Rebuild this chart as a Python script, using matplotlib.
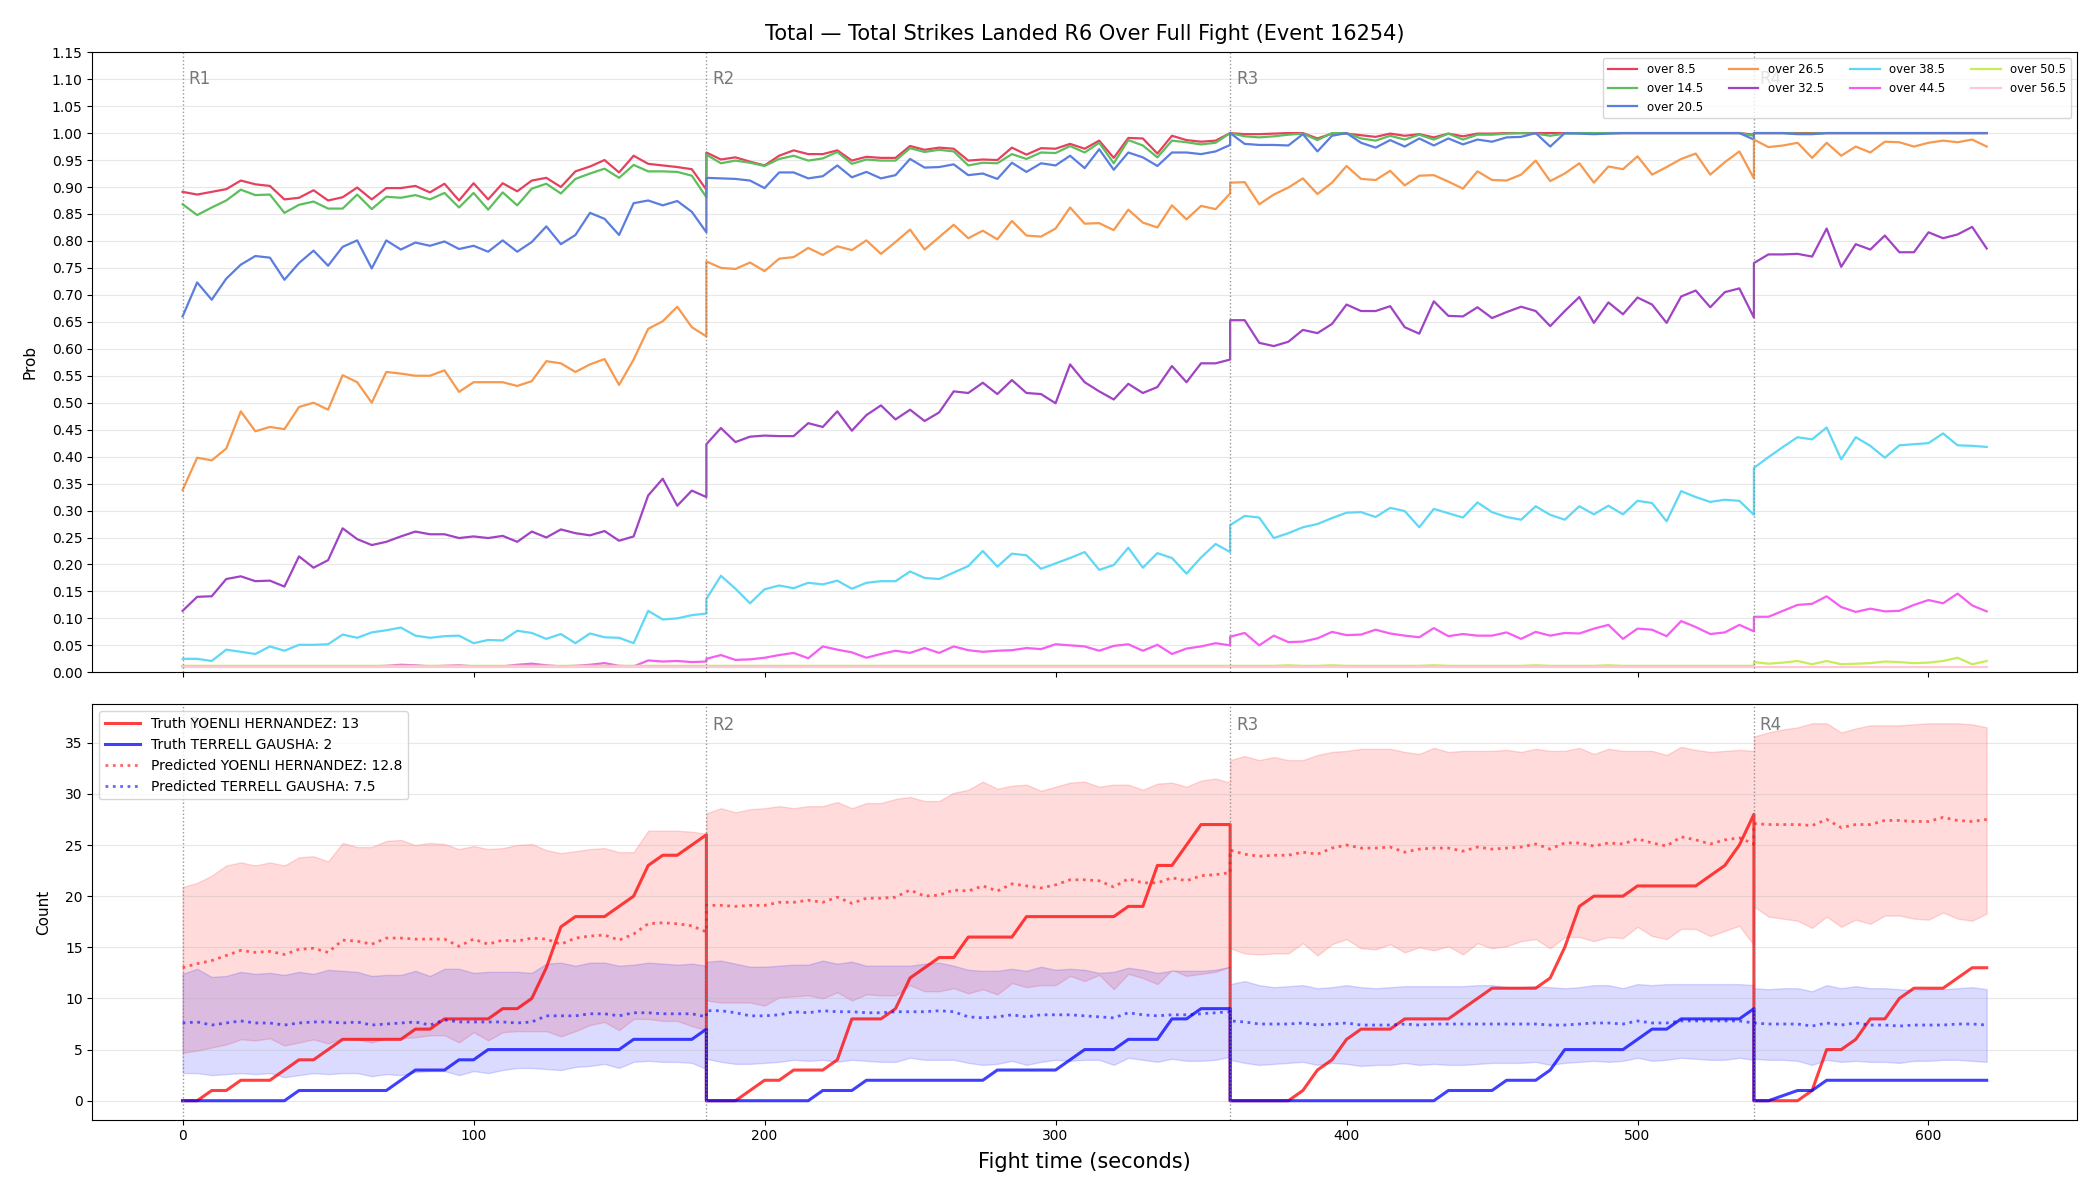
import numpy as np
import matplotlib
matplotlib.use("Agg")
import matplotlib.pyplot as plt
from matplotlib.ticker import FormatStrFormatter

# ---------------- data ----------------
round_names = ["R1", "R2", "R3", "R4"]
round_starts = [0, 180, 360, 540]
round_points = [37, 37, 37, 17]
step_seconds = 5

line_labels = ["over 8.5", "over 14.5", "over 20.5", "over 26.5", "over 32.5",
               "over 38.5", "over 44.5", "over 50.5", "over 56.5"]
line_colors = ["#e6405f", "#5cbf5c", "#5b7de0", "#f7994e", "#a043c4",
               "#5ed8f5", "#f55ef0", "#c8ec5a", "#fcc9d6"]

over_8_5 = [0.891,0.886,0.891,0.896,0.912,0.905,0.902,0.877,0.880,0.894,0.875,0.881,0.899,0.877,0.898,0.898,0.902,0.890,0.906,0.875,0.907,0.877,0.907,0.892,0.912,0.917,0.900,0.929,0.938,0.950,0.927,0.958,0.943,0.940,0.937,0.933,0.895,
            0.964,0.951,0.955,0.947,0.940,0.958,0.968,0.961,0.961,0.968,0.949,0.956,0.954,0.954,0.976,0.969,0.973,0.971,0.949,0.951,0.950,0.973,0.960,0.972,0.971,0.980,0.971,0.986,0.954,0.991,0.990,0.962,0.995,0.987,0.984,0.986,1.0,
            1.0,0.998,0.998,0.999,1.0,1.0,0.990,0.999,0.999,0.996,0.993,0.999,0.995,0.998,0.992,0.999,0.994,0.999,0.999,1.0,1.0,1.0,1.0,1.0,1.0,1.0,1.0,1.0,1.0,1.0,1.0,1.0,1.0,1.0,1.0,1.0,0.997,
            1.0,1.0,1.0,1.0,1.0,1.0,1.0,1.0,1.0,1.0,1.0,1.0,1.0,1.0,1.0,1.0,1.0]
over_14_5 = [0.868,0.848,0.862,0.875,0.895,0.885,0.886,0.852,0.867,0.873,0.860,0.860,0.886,0.859,0.882,0.880,0.885,0.877,0.889,0.862,0.889,0.858,0.890,0.866,0.897,0.906,0.888,0.915,0.925,0.934,0.917,0.941,0.929,0.929,0.928,0.921,0.881,
             0.960,0.944,0.949,0.945,0.939,0.952,0.958,0.949,0.953,0.965,0.943,0.951,0.949,0.949,0.972,0.965,0.969,0.966,0.940,0.945,0.944,0.961,0.952,0.964,0.963,0.976,0.964,0.982,0.944,0.987,0.977,0.955,0.986,0.983,0.979,0.982,1.0,
             1.0,0.994,0.992,0.994,0.997,0.999,0.987,1.0,1.0,0.990,0.986,0.995,0.988,0.997,0.988,0.999,0.988,0.997,0.997,0.999,1.0,0.999,0.995,0.999,1.0,1.0,1.0,1.0,1.0,1.0,1.0,1.0,1.0,1.0,1.0,1.0,0.995,
             1.0,1.0,1.0,0.999,0.999,1.0,1.0,1.0,1.0,1.0,1.0,1.0,1.0,1.0,1.0,1.0,1.0]
over_20_5 = [0.660,0.723,0.691,0.730,0.756,0.772,0.769,0.728,0.759,0.782,0.754,0.789,0.801,0.749,0.801,0.784,0.797,0.791,0.799,0.785,0.791,0.780,0.801,0.780,0.798,0.827,0.794,0.811,0.852,0.841,0.811,0.870,0.875,0.866,0.874,0.854,0.816,
             0.917,0.916,0.915,0.912,0.898,0.927,0.927,0.916,0.920,0.940,0.918,0.928,0.916,0.922,0.952,0.936,0.937,0.942,0.922,0.925,0.915,0.945,0.928,0.944,0.940,0.958,0.935,0.970,0.932,0.964,0.955,0.939,0.964,0.964,0.961,0.966,0.978,
             1.0,0.980,0.978,0.978,0.977,0.998,0.966,0.995,1.0,0.982,0.973,0.987,0.975,0.990,0.977,0.990,0.979,0.988,0.984,0.992,0.993,1.0,0.975,1.0,0.999,0.998,0.999,1.0,1.0,1.0,1.0,1.0,1.0,1.0,1.0,1.0,0.988,
             1.0,1.0,1.0,0.998,0.998,1.0,1.0,1.0,1.0,1.0,1.0,1.0,1.0,1.0,1.0,1.0,1.0]
over_26_5 = [0.338,0.398,0.393,0.415,0.484,0.447,0.455,0.451,0.492,0.500,0.487,0.551,0.538,0.500,0.557,0.554,0.550,0.550,0.560,0.520,0.538,0.538,0.538,0.531,0.540,0.577,0.573,0.557,0.571,0.581,0.533,0.580,0.637,0.651,0.678,0.640,0.623,
             0.762,0.750,0.748,0.760,0.744,0.767,0.770,0.787,0.774,0.790,0.783,0.801,0.776,0.798,0.821,0.784,0.807,0.830,0.805,0.819,0.803,0.837,0.810,0.808,0.823,0.862,0.832,0.833,0.820,0.858,0.834,0.825,0.866,0.840,0.865,0.859,0.888,
             0.908,0.909,0.868,0.886,0.899,0.916,0.887,0.908,0.939,0.915,0.913,0.930,0.903,0.921,0.922,0.910,0.897,0.929,0.913,0.912,0.923,0.949,0.911,0.925,0.944,0.908,0.938,0.933,0.957,0.923,0.937,0.952,0.962,0.923,0.946,0.966,0.916,
             0.988,0.974,0.977,0.982,0.954,0.982,0.958,0.975,0.964,0.984,0.983,0.975,0.982,0.986,0.983,0.988,0.975]
over_32_5 = [0.114,0.140,0.141,0.173,0.178,0.169,0.170,0.159,0.215,0.194,0.208,0.267,0.247,0.236,0.242,0.252,0.261,0.256,0.256,0.249,0.252,0.249,0.253,0.242,0.261,0.250,0.265,0.258,0.254,0.262,0.244,0.252,0.328,0.359,0.309,0.337,0.325,
             0.423,0.453,0.427,0.437,0.439,0.438,0.438,0.462,0.455,0.484,0.448,0.477,0.495,0.469,0.487,0.466,0.482,0.521,0.518,0.537,0.516,0.542,0.518,0.516,0.499,0.571,0.538,0.521,0.506,0.535,0.518,0.529,0.568,0.538,0.573,0.573,0.580,
             0.653,0.653,0.611,0.605,0.613,0.635,0.629,0.646,0.682,0.670,0.670,0.679,0.640,0.628,0.688,0.661,0.660,0.677,0.657,0.668,0.678,0.670,0.642,0.670,0.696,0.648,0.686,0.664,0.695,0.682,0.648,0.697,0.708,0.677,0.705,0.712,0.658,
             0.759,0.775,0.775,0.776,0.771,0.823,0.752,0.794,0.784,0.810,0.779,0.779,0.816,0.805,0.812,0.826,0.786]
over_38_5 = [0.025,0.025,0.021,0.042,0.038,0.034,0.048,0.040,0.051,0.051,0.052,0.070,0.064,0.074,0.078,0.083,0.068,0.064,0.067,0.068,0.054,0.060,0.059,0.077,0.073,0.062,0.071,0.054,0.072,0.065,0.064,0.054,0.114,0.098,0.100,0.106,0.109,
             0.136,0.179,0.155,0.128,0.154,0.161,0.156,0.166,0.163,0.170,0.155,0.166,0.169,0.169,0.187,0.175,0.173,0.185,0.197,0.225,0.196,0.220,0.217,0.192,0.202,0.212,0.223,0.190,0.199,0.231,0.194,0.221,0.212,0.183,0.213,0.238,0.223,
             0.273,0.290,0.287,0.249,0.258,0.269,0.275,0.286,0.296,0.297,0.288,0.305,0.299,0.269,0.303,0.295,0.287,0.315,0.297,0.288,0.283,0.308,0.292,0.283,0.308,0.293,0.309,0.293,0.318,0.314,0.280,0.336,0.325,0.316,0.320,0.318,0.292,
             0.379,0.399,0.418,0.436,0.432,0.454,0.395,0.436,0.420,0.398,0.421,0.423,0.425,0.443,0.421,0.420,0.418]
over_44_5 = [0.011,0.011,0.011,0.011,0.011,0.011,0.011,0.011,0.011,0.011,0.011,0.011,0.011,0.011,0.012,0.014,0.013,0.011,0.012,0.013,0.011,0.011,0.011,0.014,0.016,0.013,0.011,0.012,0.014,0.017,0.012,0.011,0.022,0.020,0.021,0.019,0.020,
             0.025,0.032,0.023,0.024,0.027,0.032,0.036,0.026,0.048,0.042,0.037,0.027,0.034,0.040,0.036,0.045,0.036,0.048,0.041,0.038,0.040,0.041,0.045,0.043,0.052,0.050,0.048,0.040,0.049,0.052,0.040,0.051,0.034,0.044,0.048,0.054,0.050,
             0.066,0.073,0.050,0.068,0.056,0.057,0.063,0.075,0.069,0.070,0.079,0.072,0.068,0.065,0.082,0.067,0.071,0.068,0.068,0.074,0.062,0.075,0.068,0.073,0.072,0.081,0.088,0.062,0.081,0.079,0.067,0.095,0.084,0.071,0.074,0.088,0.076,
             0.103,0.103,0.114,0.125,0.127,0.141,0.121,0.112,0.118,0.113,0.114,0.125,0.134,0.128,0.146,0.124,0.113]
over_50_5 = [0.012]*37 + \
            [0.012]*37 + \
            [0.012,0.012,0.012,0.012,0.013,0.012,0.012,0.013,0.012,0.012,0.012,0.012,0.012,0.012,0.013,0.012,0.012,0.012,0.012,0.012,0.012,0.013,0.012,0.012,0.012,0.012,0.013,0.012,0.012,0.012,0.012,0.012,0.012,0.012,0.012,0.012,0.012] + \
            [0.019,0.016,0.018,0.021,0.015,0.021,0.015,0.016,0.017,0.020,0.019,0.017,0.018,0.021,0.027,0.015,0.021]
over_56_5 = [0.009]*37 + [0.009]*37 + [0.009]*37 + [0.010]*17

truth_yoenli = [0,0,1,1,2,2,2,3,4,4,5,6,6,6,6,6,7,7,8,8,8,8,9,9,10,13,17,18,18,18,19,20,23,24,24,25,26,
                0,0,0,1,2,2,3,3,3,4,8,8,8,9,12,13,14,14,16,16,16,16,18,18,18,18,18,18,18,19,19,23,23,25,27,27,27,
                0,0,0,0,0,1,3,4,6,7,7,7,8,8,8,8,9,10,11,11,11,11,12,15,19,20,20,20,21,21,21,21,21,22,23,25,28,
                0,0,0,0,1,5,5,6,8,8,10,11,11,11,12,13,13]
truth_gausha = [0,0,0,0,0,0,0,0,1,1,1,1,1,1,1,2,3,3,3,4,4,5,5,5,5,5,5,5,5,5,5,6,6,6,6,6,7,
                0,0,0,0,0,0,0,0,1,1,1,2,2,2,2,2,2,2,2,2,3,3,3,3,3,4,5,5,5,6,6,6,8,8,9,9,9,
                0,0,0,0,0,0,0,0,0,0,0,0,0,0,0,1,1,1,1,2,2,2,3,5,5,5,5,5,6,7,7,8,8,8,8,8,9,
                0,0,0.5,1,1,2,2,2,2,2,2,2,2,2,2,2,2]

pred_yoenli = [13.0,13.4,13.7,14.2,14.7,14.5,14.6,14.3,14.8,14.9,14.5,15.7,15.6,15.3,15.9,15.9,15.8,15.8,15.8,15.1,15.8,15.3,15.7,15.6,15.9,15.8,15.3,15.9,16.1,16.2,15.7,16.3,17.3,17.4,17.3,17.1,16.5,
               19.1,19.1,19.0,19.1,19.1,19.4,19.4,19.6,19.4,19.9,19.3,19.8,19.8,19.9,20.6,20.0,20.1,20.6,20.5,21.0,20.5,21.2,21.0,20.8,21.1,21.6,21.6,21.5,20.9,21.7,21.3,21.3,21.8,21.5,22.0,22.1,22.3,
               24.5,24.1,23.9,24.0,24.0,24.3,24.1,24.7,25.0,24.7,24.7,24.8,24.3,24.6,24.7,24.7,24.4,24.8,24.6,24.7,24.8,25.1,24.6,25.2,25.2,24.9,25.2,25.1,25.6,25.2,24.9,25.8,25.5,25.1,25.5,25.7,25.1,
               27.1,27.0,27.0,27.0,26.9,27.5,26.7,27.0,27.0,27.4,27.4,27.3,27.3,27.7,27.4,27.3,27.5]
pred_yoenli_hi = [20.9,21.3,22.0,23.0,23.3,23.0,23.3,23.0,23.8,23.9,23.4,25.2,24.8,24.8,25.4,25.5,25.0,25.2,25.1,24.6,24.9,24.6,24.7,25.0,25.1,24.5,24.2,24.4,24.6,24.7,24.3,24.3,26.4,26.4,26.4,26.3,26.1,
                  28.1,28.6,28.2,28.5,28.6,28.8,28.6,28.8,28.8,29.2,28.6,29.1,29.1,29.5,29.7,29.3,29.3,30.1,30.4,31.2,30.5,30.8,30.9,30.3,30.7,31.1,31.2,30.7,30.9,30.9,30.4,31.0,31.1,30.7,31.3,31.5,31.1,
                  33.3,33.7,33.3,33.6,33.3,33.3,33.8,34.1,34.2,34.4,34.4,34.4,34.1,33.9,34.5,34.1,34.2,34.2,34.2,34.3,34.1,34.4,34.2,34.2,34.5,33.9,34.4,34.2,34.2,34.2,33.8,34.6,34.3,34.1,34.2,34.3,34.2,
                  35.6,36.0,36.3,36.5,36.9,36.9,36.0,36.4,36.7,36.7,36.7,36.8,36.9,36.9,36.9,36.8,36.5]
pred_yoenli_lo = [4.7,4.9,5.2,5.5,6.0,5.9,6.1,5.4,5.7,6.0,5.6,6.1,6.0,5.7,6.1,6.1,6.2,6.4,6.4,5.7,6.7,5.9,6.7,6.8,6.8,6.8,6.3,6.8,7.4,7.7,6.9,8.0,8.0,7.8,7.8,7.3,6.9,
                  9.8,9.6,9.6,9.6,9.3,10.1,10.2,10.3,10.0,10.6,9.8,10.4,10.3,10.3,11.3,10.7,10.7,11.0,10.5,10.9,10.4,11.5,11.1,11.3,11.3,12.2,11.7,12.3,10.9,12.4,12.0,11.4,12.8,12.2,12.4,12.6,13.1,
                  14.9,14.4,14.3,14.4,14.4,15.4,14.2,15.3,15.8,14.9,14.8,15.3,14.5,15.0,14.7,15.1,14.3,15.4,14.9,15.1,15.6,15.8,14.9,16.0,16.0,15.6,16.0,15.9,17.0,16.1,15.8,16.8,16.8,16.1,16.6,17.1,15.2,
                  19.0,18.0,17.8,17.6,16.9,18.0,17.0,17.7,17.3,18.1,18.1,17.8,17.7,18.4,17.8,17.6,18.3]

pred_gausha = [7.6,7.7,7.4,7.6,7.8,7.6,7.6,7.4,7.6,7.7,7.7,7.6,7.7,7.4,7.5,7.6,7.7,7.4,7.9,7.7,7.7,7.7,7.7,7.6,7.7,8.3,8.3,8.3,8.5,8.5,8.3,8.6,8.6,8.5,8.5,8.5,8.2,
               8.8,8.8,8.6,8.3,8.3,8.4,8.7,8.6,8.8,8.7,8.7,8.6,8.6,8.7,8.7,8.7,8.8,8.7,8.2,8.1,8.2,8.4,8.2,8.4,8.4,8.4,8.3,8.2,8.1,8.6,8.4,8.3,8.4,8.4,8.5,8.6,8.7,
               7.8,7.7,7.5,7.5,7.5,7.6,7.4,7.5,7.6,7.4,7.4,7.4,7.5,7.4,7.5,7.5,7.5,7.5,7.5,7.5,7.5,7.5,7.4,7.4,7.5,7.6,7.6,7.5,7.8,7.6,7.6,7.8,7.8,7.8,7.8,7.8,7.6,
               7.6,7.5,7.5,7.5,7.3,7.6,7.4,7.6,7.4,7.4,7.3,7.4,7.4,7.4,7.5,7.5,7.4]
pred_gausha_hi = [12.4,12.9,12.1,12.2,12.6,12.4,12.5,12.3,12.6,12.4,12.8,12.7,12.6,12.2,12.3,12.3,12.7,12.2,12.9,12.9,12.5,12.6,12.6,12.6,12.5,13.4,13.5,13.2,13.5,13.5,13.2,13.3,13.5,13.4,13.3,13.4,13.2,
                  13.6,13.7,13.4,13.1,13.1,13.2,13.3,13.3,13.7,13.4,13.6,13.2,13.2,13.2,13.2,13.4,13.5,13.2,12.8,12.7,12.7,12.9,12.7,13.1,12.8,12.9,12.8,12.5,12.6,13.0,12.8,12.5,12.7,12.7,12.7,12.8,13.1,
                  11.4,11.7,11.3,11.1,11.2,11.3,11.0,11.1,11.3,11.1,11.0,11.1,11.2,11.2,11.2,11.2,11.2,11.3,11.3,11.1,11.1,11.2,11.1,11.0,11.1,11.3,11.3,11.0,11.4,11.3,11.4,11.4,11.4,11.4,11.4,11.4,11.3,
                  11.0,10.9,11.0,11.0,10.7,11.3,11.0,11.2,11.0,11.0,10.9,10.8,10.9,10.9,11.0,11.1,10.9]
pred_gausha_lo = [2.7,2.7,2.5,2.6,2.7,2.6,2.7,2.3,2.5,2.7,2.6,2.7,2.7,2.4,2.6,2.5,2.8,2.9,2.9,2.5,2.9,2.7,3.0,3.2,3.2,3.1,3.0,3.3,3.4,3.6,3.2,3.8,3.9,3.8,3.8,3.7,3.1,
                  4.1,3.8,3.6,3.6,3.7,3.8,4.0,3.9,4.0,3.8,4.0,3.9,3.8,3.8,4.2,4.0,4.0,4.0,3.7,3.5,3.6,3.9,3.5,3.8,4.0,3.9,4.0,4.0,3.5,4.2,4.0,3.8,4.1,3.9,3.9,4.0,4.3,
                  4.0,3.7,3.5,3.6,3.7,3.8,3.5,3.7,3.6,3.4,3.5,3.5,3.7,3.5,3.6,3.5,3.5,3.6,3.7,3.7,3.7,3.8,3.5,3.7,3.8,3.9,3.8,3.9,4.2,3.9,4.0,4.2,4.1,4.0,4.0,4.2,4.0,
                  4.1,4.0,4.0,3.9,3.5,4.0,3.8,3.9,3.8,3.8,3.7,3.9,3.9,4.0,4.0,3.9,3.8]

legend_truth_yoenli = "Truth YOENLI HERNANDEZ: 13"
legend_truth_gausha = "Truth TERRELL GAUSHA: 2"
legend_pred_yoenli = "Predicted YOENLI HERNANDEZ: 12.8"
legend_pred_gausha = "Predicted TERRELL GAUSHA: 7.5"
title_text = "Total \u2014 Total Strikes Landed R6 Over Full Fight (Event 16254)"

# ---------------- build time axis ----------------
t = np.concatenate([s + step_seconds * np.arange(n) for s, n in zip(round_starts, round_points)])

prob_series = [over_8_5, over_14_5, over_20_5, over_26_5, over_32_5,
               over_38_5, over_44_5, over_50_5, over_56_5]

# ---------------- figure ----------------
fig, (ax1, ax2) = plt.subplots(2, 1, figsize=(21, 12), dpi=100, sharex=True,
                               gridspec_kw={"height_ratios": [463, 310]})
fig.subplots_adjust(left=0.044, right=0.989, top=0.9565, bottom=0.067, hspace=0.062)

for vals, lab, col in zip(prob_series, line_labels, line_colors):
    ax1.plot(t, vals, color=col, lw=1.6, label=lab)

ax1.set_ylim(0, 1.15)
ax1.set_yticks(np.arange(0, 1.1501, 0.05))
ax1.yaxis.set_major_formatter(FormatStrFormatter("%.2f"))
ax1.set_ylabel("Prob", fontsize=11, labelpad=10)
ax1.grid(axis="y", alpha=0.3)
ax1.set_title(title_text, fontsize=15, pad=9)
ax1.legend(loc="upper right", ncol=4, fontsize=8.5, handlelength=2.5, columnspacing=2.2)

# bottom panel
ax2.fill_between(t, pred_yoenli_lo, pred_yoenli_hi, color="red", alpha=0.14)
ax2.fill_between(t, pred_gausha_lo, pred_gausha_hi, color="blue", alpha=0.14)
ax2.plot(t, truth_yoenli, color="red", alpha=0.75, lw=2.2, label=legend_truth_yoenli)
ax2.plot(t, truth_gausha, color="blue", alpha=0.75, lw=2.2, label=legend_truth_gausha)
ax2.plot(t, pred_yoenli, color="red", alpha=0.6, lw=2, ls=":", label=legend_pred_yoenli)
ax2.plot(t, pred_gausha, color="blue", alpha=0.6, lw=2, ls=":", label=legend_pred_gausha)
ax2.set_ylabel("Count", fontsize=11, labelpad=10)
ax2.set_xlabel("Fight time (seconds)", fontsize=15, labelpad=6)
ax2.grid(axis="y", alpha=0.3)
ax2.legend(loc="upper left", fontsize=10, handlelength=2.5)

for ax in (ax1, ax2):
    for name, s in zip(round_names, round_starts):
        ax.axvline(s, color="gray", ls=":", lw=1, alpha=0.8)
        ax.text(s + 2, 0.972, name, transform=ax.get_xaxis_transform(),
                color="dimgray", fontsize=12, va="top", ha="left", alpha=0.9)

fig.savefig("out.png", dpi=100)
